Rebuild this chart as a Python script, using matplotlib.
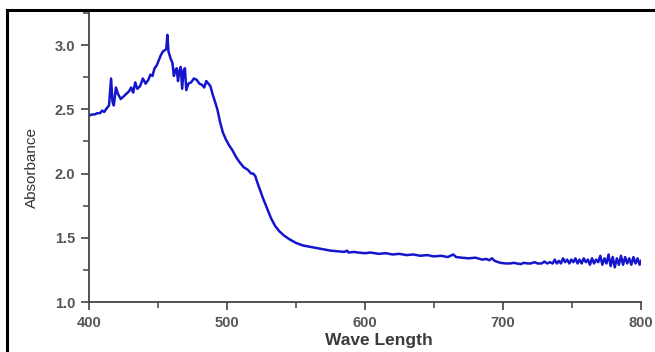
import matplotlib
matplotlib.use("Agg")
import matplotlib.pyplot as plt
from matplotlib.lines import Line2D
from matplotlib.ticker import MultipleLocator

# absorbance spectrum
wavelength = [400, 402, 404, 406, 408, 409.5, 411, 413, 414.5, 416, 417, 418, 419.5, 421,
              423, 425, 427, 429, 430.5, 432, 433.5, 435, 437, 439, 441, 443, 444.5, 446,
              447.5, 449, 450.5, 452, 453.5, 455, 456, 456.8, 457.6, 459, 460.5, 461.5,
              462.5, 463.5, 464.5, 465.5, 466.5, 467.5, 468.5, 469.5, 470.5, 472, 474,
              476, 478, 480, 482, 483.5, 485, 486.5, 488, 489.5, 491, 493, 495, 497, 499,
              501.5, 504, 506.5, 509, 512, 515, 517.5, 519, 520.5, 522, 524, 526, 529,
              532, 535, 538, 541, 545, 550, 555, 560, 565, 570, 575, 580, 585, 587, 588,
              592, 595, 600, 604, 610, 615, 620, 625, 630, 635, 640, 645, 650, 655, 660,
              664, 666, 670, 675, 680, 685, 688, 690, 692, 694, 698, 702, 705, 708, 710,
              713, 715, 718, 720, 723, 725, 728, 730, 732, 734, 736, 737.5, 739, 740.5,
              742, 743.5, 745, 746.5, 748, 749.5, 751, 752.5, 754, 755.5, 757, 758.5,
              760, 761.5, 763, 764.5, 766, 767.5, 769, 770.5, 772, 773.5, 775, 776.5, 778,
              779.5, 781, 782.5, 784, 785.5, 787, 788.5, 790, 791.5, 793, 794.5, 796,
              797.5, 799, 800]
absorbance = [2.45, 2.46, 2.46, 2.47, 2.47, 2.49, 2.48, 2.51, 2.53, 2.74, 2.56, 2.53, 2.67,
              2.62, 2.58, 2.60, 2.62, 2.64, 2.67, 2.63, 2.71, 2.66, 2.68, 2.74, 2.70, 2.73,
              2.77, 2.76, 2.82, 2.84, 2.88, 2.92, 2.95, 2.96, 2.97, 3.08, 2.95, 2.90, 2.86,
              2.76, 2.80, 2.82, 2.72, 2.80, 2.83, 2.66, 2.80, 2.82, 2.65, 2.70, 2.71, 2.74,
              2.73, 2.70, 2.69, 2.67, 2.72, 2.70, 2.68, 2.62, 2.57, 2.50, 2.40, 2.32, 2.27,
              2.22, 2.18, 2.13, 2.09, 2.05, 2.03, 2.00, 2.00, 1.98, 1.93, 1.87, 1.81, 1.73,
              1.65, 1.59, 1.55, 1.52, 1.49, 1.46, 1.44, 1.43, 1.42, 1.41, 1.40, 1.395, 1.39,
              1.40, 1.385, 1.39, 1.385, 1.38, 1.385, 1.375, 1.38, 1.37, 1.375, 1.365,
              1.37, 1.36, 1.365, 1.355, 1.36, 1.35, 1.37, 1.35, 1.345, 1.34, 1.345, 1.33,
              1.335, 1.325, 1.34, 1.32, 1.305, 1.30, 1.30, 1.305, 1.30, 1.295, 1.305, 1.30,
              1.30, 1.31, 1.30, 1.30, 1.315, 1.30, 1.31, 1.30, 1.33, 1.30, 1.32, 1.30,
              1.34, 1.31, 1.33, 1.30, 1.33, 1.31, 1.34, 1.30, 1.33, 1.30, 1.34, 1.31, 1.33,
              1.29, 1.34, 1.30, 1.33, 1.31, 1.36, 1.29, 1.34, 1.30, 1.37, 1.28, 1.35, 1.27,
              1.34, 1.29, 1.36, 1.29, 1.35, 1.30, 1.34, 1.29, 1.35, 1.30, 1.34, 1.29, 1.32]

fig = plt.figure(figsize=(6.55, 3.52), dpi=100)
ax = fig.add_axes([89 / 655, 1 - 302 / 352, 552 / 655, 289 / 352])

ax.plot(wavelength, absorbance, color='#1515CC', linewidth=1.8)

ax.set_xlim(400, 800)
ax.set_ylim(1.0, 3.25)
ax.xaxis.set_major_locator(MultipleLocator(100))
ax.xaxis.set_minor_locator(MultipleLocator(50))
ax.yaxis.set_major_locator(MultipleLocator(0.5))
ax.yaxis.set_minor_locator(MultipleLocator(0.25))

for side in ['top', 'right']:
    ax.spines[side].set_visible(False)
for side in ['left', 'bottom']:
    ax.spines[side].set_color('#444444')
    ax.spines[side].set_linewidth(1.3)

ax.tick_params(which='major', direction='out', length=6, width=1.2, color='#444444',
               labelsize=10.5, labelcolor='#555555', pad=4)
ax.tick_params(which='minor', direction='out', length=4, width=1.1, color='#444444')
for lab in ax.get_xticklabels() + ax.get_yticklabels():
    lab.set_fontfamily('Liberation Sans')
    lab.set_fontweight('bold')

ax.set_xlabel('Wave Length', fontsize=12.5, color='#3a3a3a', family='Liberation Sans',
              fontweight='bold')
ax.xaxis.set_label_coords((379 - 89) / 552, -31 / 289)
ax.set_ylabel('Absorbance', fontsize=11, color='#333333', family='Liberation Sans')
ax.yaxis.set_label_coords(-(89 - 39) / 552, (302 - 167) / 289)

# outer frame (top and left edges only)
fig.add_artist(Line2D([7 / 655, 1.0], [1 - 10 / 352, 1 - 10 / 352], color='black',
                      linewidth=2.2, transform=fig.transFigure))
fig.add_artist(Line2D([7 / 655, 7 / 655], [0.0, 1 - 10 / 352], color='black',
                      linewidth=2.2, transform=fig.transFigure))

fig.savefig('out.png', dpi=100)
